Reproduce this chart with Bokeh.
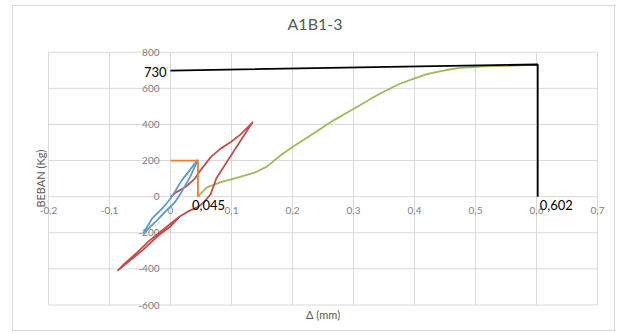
import math
from bokeh.plotting import figure
from bokeh.models import Range1d
from bokeh.core.properties import value
from bokeh.embed import file_html
from bokeh.resources import INLINE

# ---- data ----
blue_x = [0.045, 0.032, 0.024, 0.016, 0.007, -0.007, -0.023, -0.045,
          -0.03, -0.012, 0.0, 0.01, 0.018, 0.029, 0.045]
blue_y = [205, 108, 61, 15, -32, -78, -134, -205,
          -120, -60, -10, 43, 89, 136, 205]

orange_x = [0.0, 0.045, 0.045]
orange_y = [200, 200, 0]

red_x = [0.0, 0.01, 0.025, 0.04, 0.05, 0.066, 0.082, 0.099, 0.115, 0.135,
         0.11, 0.09, 0.075, 0.066, 0.055, 0.045, 0.03, 0.015, 0.0, -0.02, -0.045, -0.065, -0.087,
         -0.075, -0.055, -0.035, -0.015, 0.0, 0.015, 0.03, 0.042]
red_y = [0, 25, 55, 100, 150, 219, 266, 303, 345, 413,
         285, 180, 100, 15, -30, -58, -80, -110, -165, -215, -295, -350, -411,
         -370, -310, -245, -190, -150, -110, -80, -62]

green_x = [0.045, 0.059, 0.081, 0.114, 0.139, 0.158, 0.18, 0.2, 0.23, 0.268, 0.302,
           0.34, 0.373, 0.4, 0.422, 0.45, 0.477, 0.515, 0.553, 0.602]
green_y = [0, 50, 79, 110, 135, 166, 228, 275, 340, 424, 490,
           564, 621, 655, 680, 700, 714, 721, 724, 731]

black_x = [0.0, 0.602, 0.602]
black_y = [698, 732, 0]

label_text = ["730", "0,045", "0,602"]

x_ticks = [-0.2, -0.1, 0.0, 0.1, 0.2, 0.3, 0.4, 0.5, 0.6, 0.7]
x_tick_labels = ["-0,2", "-0,1", "0", "0,1", "0,2", "0,3", "0,4", "0,5", "0,6", "0,7"]
y_ticks = [-600, -400, -200, 0, 200, 400, 600, 800]
y_tick_labels = ["-600", "-400", "-200", "0", "200", "400", "600", "800"]

chart_title = "A1B1-3"
x_title = "\u0394 (mm)"
y_title = "BEBAN (Kg)"

FONT = "Lato"
GRID = "#d9d9d9"
TICK_COLOR = "#808080"
TITLE_COLOR = "#595959"

W, H = 603, 326
TOP = 31
# plot area (tick span) in canvas pixels
PL, PR, PT, PB = 35.0, 584.0, 45.7, 298.5
xs = (x_ticks[-1] - x_ticks[0]) / (PR - PL)
ys = (y_ticks[-1] - y_ticks[0]) / (PB - PT)
x0 = x_ticks[0] - PL * xs
x1 = x_ticks[-1] + (W - PR) * xs
y1 = y_ticks[-1] + (PT - TOP) * ys
y0 = y_ticks[0] - (H - PB) * ys

p = figure(width=W, height=H, output_backend="svg", toolbar_location=None,
           x_range=Range1d(x0, x1), y_range=Range1d(y0, y1),
           x_axis_location=None, y_axis_location=None,
           min_border_left=0, min_border_right=0, min_border_top=TOP, min_border_bottom=0,
           outline_line_color=None,
           styles={"border": "1px solid #d9d9d9", "margin-left": "12px", "margin-top": "5px"})
p.grid.visible = False

p.title.text = chart_title
p.title.align = "center"
p.title.text_font = FONT
p.title.text_font_size = "16px"
p.title.text_font_style = "normal"
p.title.text_color = TITLE_COLOR

# gridlines over the plot area
p.segment(x0=x_ticks, y0=[y_ticks[0]] * len(x_ticks), x1=x_ticks, y1=[y_ticks[-1]] * len(x_ticks),
          line_color=GRID, line_width=1)
p.segment(x0=[x_ticks[0]] * len(y_ticks), y0=y_ticks, x1=[x_ticks[-1]] * len(y_ticks), y1=y_ticks,
          line_color=GRID, line_width=1)

# tick labels placed along the zero lines (axes cross at 0)
p.text(x=x_ticks, y=[0] * len(x_ticks), text=x_tick_labels, text_align="center",
       text_baseline="middle", y_offset=14, text_font=value(FONT),
       text_font_size="10px", text_color=TICK_COLOR)
p.text(x=[0] * len(y_ticks), y=y_ticks, text=y_tick_labels, text_align="right",
       text_baseline="middle", x_offset=-11, text_font=value(FONT),
       text_font_size="10px", text_color=TICK_COLOR)

# axis titles
p.text(x=[(x_ticks[0] + x_ticks[-1]) / 2], y=[y_ticks[0]], text=[x_title], text_align="center",
       text_baseline="middle", y_offset=9, text_font=value(FONT),
       text_font_size="11px", text_color=TITLE_COLOR)
p.text(x=[x_ticks[0]], y=[(y_ticks[0] + y_ticks[-1]) / 2], text=[y_title], text_align="center",
       text_baseline="middle", x_offset=-8, angle=math.pi / 2, text_font=value(FONT),
       text_font_size="11px", text_color=TITLE_COLOR)

p.line(green_x, green_y, line_color="#9bbb59", line_width=1.8)
p.line(red_x, red_y, line_color="#c0504d", line_width=1.8)
p.line(blue_x, blue_y, line_color="#5b9bd5", line_width=1.8)
p.line(orange_x, orange_y, line_color="#ed7d31", line_width=1.8)
p.line(black_x, black_y, line_color="#000000", line_width=1.8)

# data labels anchored to the black / orange points
p.text(x=[black_x[0]], y=[black_y[0]], text=[label_text[0]], text_align="right",
       text_baseline="middle", x_offset=-4, y_offset=1, text_font=value(FONT),
       text_font_size="13px", text_color="#000000")
p.text(x=[orange_x[2]], y=[orange_y[2]], text=[label_text[1]], text_align="left",
       text_baseline="middle", x_offset=-6, y_offset=8, text_font=value(FONT),
       text_font_size="13px", text_color="#000000")
p.text(x=[black_x[2]], y=[black_y[2]], text=[label_text[2]], text_align="left",
       text_baseline="middle", x_offset=2, y_offset=8, text_font=value(FONT),
       text_font_size="13px", text_color="#000000")

open("out.html", "w").write(file_html(p, INLINE))
